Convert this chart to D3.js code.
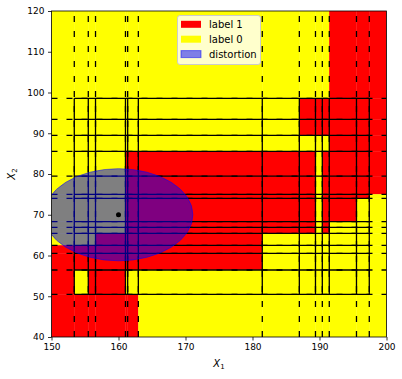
<!DOCTYPE html>
<html>
<head>
<meta charset="utf-8">
<script src="https://cdn.jsdelivr.net/npm/d3@7"></script>
<style>
  html, body { margin: 0; padding: 0; background: #fff; }
  svg { display: block; font-family: "DejaVu Sans", sans-serif; }
</style>
</head>
<body>
<svg id="chart" width="402" height="379"></svg>
<script>
// ---- data ----
const xDomain = [150, 200];
const yDomain = [40, 120];
const xTicks = [150, 160, 170, 180, 190, 200];
const yTicks = [40, 50, 60, 70, 80, 90, 100, 110, 120];
// decision thresholds on X1 and X2
const xThresholds = [153.4, 155.49, 156.57, 161.04, 161.37, 162.96, 181.46, 186.99, 189.4, 190.42, 191.46, 195.52, 197.43];
const yThresholds = [50.48, 56.44, 60.54, 62.5, 65.45, 66.92, 68.3, 74.04, 75.02, 79.46, 85.57, 89.5, 93.42, 98.58];
// predicted label per cell, rows from top (high X2) to bottom, columns left to right
const labelRows = [
  "00000000000111",
  "00000000111111",
  "00000000111111",
  "00000000000111",
  "00001111101111",
  "00001111101111",
  "00001111101110",
  "00001111101100",
  "00001111101000",
  "00001111101000",
  "00011110000000",
  "11111110000000",
  "11111110000000",
  "10110000000000",
  "11111100000000"
];
const pointCenter = [160, 70];
const distortionRadii = [11.1, 11.3];
const legendLabels = ["label 1", "label 0", "distortion"];

// ---- drawing ----
const svg = d3.select("#chart");
const L = 51.5, R = 386.5, T = 11, B = 337;
const x = d3.scaleLinear().domain(xDomain).range([L, R]);
const y = d3.scaleLinear().domain(yDomain).range([B, T]);
const colors = { "1": "#ff0000", "0": "#ffff00" };

svg.append("defs").append("clipPath").attr("id", "clip")
  .append("rect").attr("x", L).attr("y", T).attr("width", R - L).attr("height", B - T);

const plot = svg.append("g").attr("clip-path", "url(#clip)");

const xEdges = [xDomain[0], ...xThresholds, xDomain[1]];
const yEdges = [yDomain[0], ...yThresholds, yDomain[1]];
const nRows = yEdges.length - 1;
const cells = [];
labelRows.forEach((row, r) => {
  const yi = nRows - 1 - r;
  row.split("").forEach((lab, c) => {
    cells.push({ x0: xEdges[c], x1: xEdges[c + 1], y0: yEdges[yi], y1: yEdges[yi + 1], lab });
  });
});
plot.append("g").selectAll("rect").data(cells).join("rect")
  .attr("x", d => x(d.x0)).attr("y", d => y(d.y1))
  .attr("width", d => x(d.x1) - x(d.x0)).attr("height", d => y(d.y0) - y(d.y1))
  .attr("fill", d => colors[d.lab])
  .attr("stroke", d => colors[d.lab]).attr("stroke-width", 0.3);

const lw = 1.3;
const xMin = d3.min(xThresholds), xMax = d3.max(xThresholds);
const yMin = d3.min(yThresholds), yMax = d3.max(yThresholds);
const lines = plot.append("g").attr("stroke", "#000").attr("stroke-width", lw).attr("fill", "none");
// dashed full-length lines
lines.selectAll("line.vd").data(xThresholds).join("line").attr("class", "vd")
  .attr("x1", d => x(d)).attr("x2", d => x(d))
  .attr("y1", y(yDomain[0])).attr("y2", y(yDomain[1]))
  .attr("stroke-dasharray", "6,9");
lines.selectAll("line.hd").data(yThresholds).join("line").attr("class", "hd")
  .attr("y1", d => y(d)).attr("y2", d => y(d))
  .attr("x1", x(xDomain[0])).attr("x2", x(xDomain[1]))
  .attr("stroke-dasharray", "6,9");
// solid inner segments
lines.selectAll("line.vs").data(xThresholds).join("line").attr("class", "vs")
  .attr("x1", d => x(d)).attr("x2", d => x(d))
  .attr("y1", y(yMin)).attr("y2", y(yMax));
lines.selectAll("line.hs").data(yThresholds).join("line").attr("class", "hs")
  .attr("y1", d => y(d)).attr("y2", d => y(d))
  .attr("x1", x(xMin)).attr("x2", x(xMax));

// distortion ellipse
plot.append("ellipse")
  .attr("cx", x(pointCenter[0])).attr("cy", y(pointCenter[1]))
  .attr("rx", x(pointCenter[0] + distortionRadii[0]) - x(pointCenter[0]))
  .attr("ry", y(pointCenter[1]) - y(pointCenter[1] + distortionRadii[1]))
  .attr("fill", "#0000ff").attr("fill-opacity", 0.5)
  .attr("stroke", "#0000ff").attr("stroke-opacity", 0.5).attr("stroke-width", 1);

plot.append("circle")
  .attr("cx", x(pointCenter[0])).attr("cy", y(pointCenter[1]))
  .attr("r", 2.5).attr("fill", "#000");

// axes
const xAxis = svg.append("g").attr("transform", `translate(0,${B})`)
  .call(d3.axisBottom(x).tickValues(xTicks).tickSize(3.5).tickPadding(3.5).tickFormat(d3.format("d")));
const yAxis = svg.append("g").attr("transform", `translate(${L},0)`)
  .call(d3.axisLeft(y).tickValues(yTicks).tickSize(3.5).tickPadding(3.5).tickFormat(d3.format("d")));
[xAxis, yAxis].forEach(a => {
  a.select(".domain").remove();
  a.selectAll("line").attr("stroke", "#000").attr("stroke-width", 0.8);
  a.selectAll("text").attr("font-size", 9).attr("font-family", "DejaVu Sans").attr("fill", "#000");
});

svg.append("rect").attr("x", L).attr("y", T).attr("width", R - L).attr("height", B - T)
  .attr("fill", "none").attr("stroke", "#000").attr("stroke-width", 0.8);

// axis labels
const xl = svg.append("text").attr("x", (L + R) / 2).attr("y", 367.3)
  .attr("text-anchor", "middle").attr("font-size", 10).attr("fill", "#000");
xl.append("tspan").attr("font-style", "italic").text("X");
xl.append("tspan").attr("font-size", 7).attr("dy", 2).text("1");

const yl = svg.append("text").attr("transform", `translate(15,${(T + B) / 2}) rotate(-90)`)
  .attr("text-anchor", "middle").attr("font-size", 10).attr("fill", "#000");
yl.append("tspan").attr("font-style", "italic").text("X");
yl.append("tspan").attr("font-size", 7).attr("dy", 2).text("2");

// legend
const lg = svg.append("g");
lg.append("rect").attr("x", 177.5).attr("y", 15.5).attr("width", 83).attr("height", 49)
  .attr("rx", 2.5).attr("fill", "#fff").attr("fill-opacity", 0.8)
  .attr("stroke", "#cccccc").attr("stroke-width", 1);
const legendStyles = [
  { fill: colors["1"], op: 1, stroke: "none" },
  { fill: colors["0"], op: 1, stroke: "none" },
  { fill: "#0000ff", op: 0.5, stroke: "#0000ff" }
];
const items = lg.selectAll("g.item").data(legendLabels).join("g").attr("class", "item")
  .attr("transform", (d, i) => `translate(181,${24.3 + i * 14.9})`);
items.append("rect").attr("x", 0).attr("y", -3.5).attr("width", 20).attr("height", 7)
  .attr("fill", (d, i) => legendStyles[i].fill).attr("fill-opacity", (d, i) => legendStyles[i].op)
  .attr("stroke", (d, i) => legendStyles[i].stroke).attr("stroke-opacity", 0.5).attr("stroke-width", 1);
items.append("text").attr("x", 28).attr("y", 3.6).attr("font-size", 10).attr("fill", "#000").text(d => d);
</script>
</body>
</html>
